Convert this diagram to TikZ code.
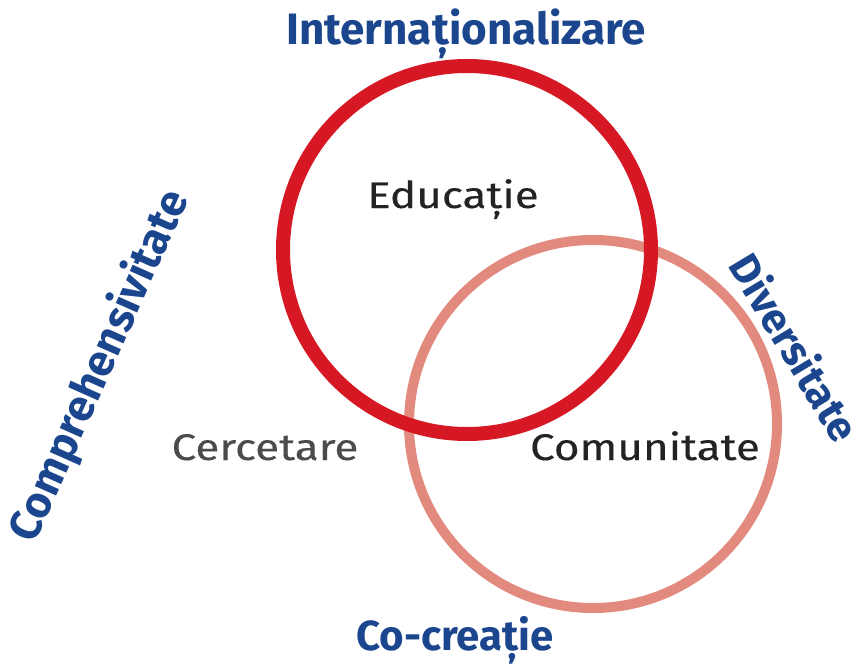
\documentclass[tikz,border=0pt]{standalone}
\usepackage{fontspec}
\setmainfont{Fira Sans}
\newfontfamily\areafont[FakeStretch=1.19,FakeBold=0.3]{Fira Sans}
\definecolor{venred}{RGB}{214, 24, 36}
\definecolor{venpink}{RGB}{226, 138, 126}
\definecolor{venblue}{RGB}{27, 70, 142}
\definecolor{ventext}{RGB}{35, 35, 38}
\usetikzlibrary{
  positioning,
}
\tikzset{
  ring/.style={draw,circle,minimum size=368,inner sep=0},
  theme/.style={text=venblue,font=\bfseries\fontsize{44}{46}\selectfont,inner sep=0},
  area/.style={text=ventext,font=\areafont\fontsize{37}{39}\selectfont,inner sep=0},
}

\begin{document}
\begin{tikzpicture}[x=1pt,y=-1pt]

        \useasboundingbox (0,0) rectangle (864,666);

        % the two rings, red on top
        \node[ring,draw=venpink,line width=10]    (com)    at (593,424)    {};
        \node[ring,draw=venred,line width=14]     (edu)    at (467,250)    {};

        \node[area,anchor=base]    (eduT)    at (453,208)    {Educație};
        \node[area,anchor=base,text=ventext!82]    (cer)    at (265,460)    {Cercetare};
        \node[area,anchor=base]    (comT)    at (645,460)    {Comunitate};

        \node[theme,anchor=base]    (intl)    at (466,45)    {Internaționalizare};
        \node[theme,anchor=base,font=\bfseries\fontsize{42}{44}\selectfont]    (cocr)    at (455,650)    {Co-creație};
        \node[theme,rotate=66]    (compr)    at (100,366)    {Comprehensivitate};
        \node[theme,rotate=-59,font=\bfseries\fontsize{42}{44}\selectfont]    (div)    at (796,347)    {Diversitate};

    \end{tikzpicture}
\end{document}
